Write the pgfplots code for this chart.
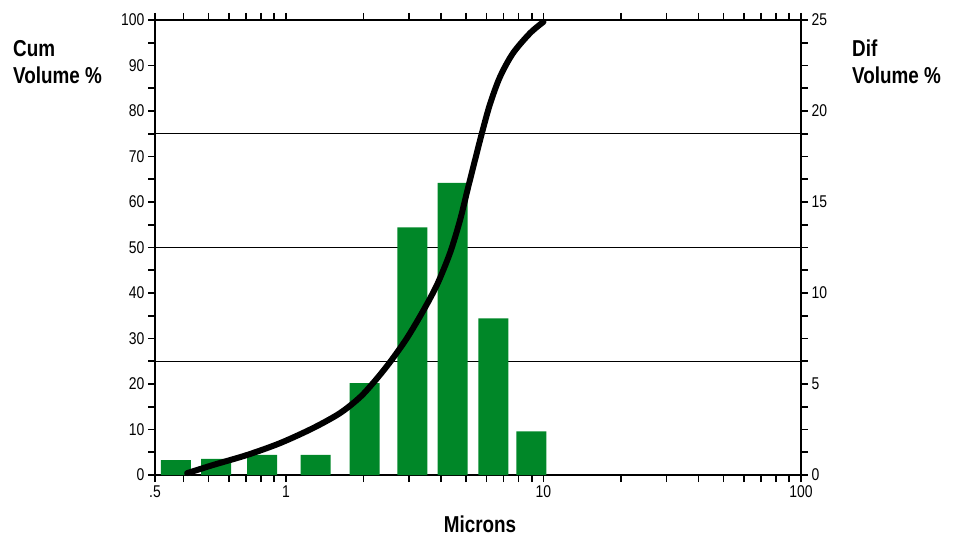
\documentclass[border=0pt]{standalone}
\usepackage{fontspec}
\setmainfont{Liberation Sans}[FakeStretch=0.82]
\usepackage{pgfplots}
\pgfplotsset{compat=1.18}
\definecolor{bargreen}{RGB}{0,135,40}
\begin{document}
\begin{tikzpicture}[x=1pt,y=1pt]
\path[use as bounding box] (0,0) rectangle (955,536);
% axis 1: left scale, reference lines
\begin{axis}[
  at={(155pt,61pt)}, anchor=south west, scale only axis, width=646pt, height=455pt,
  xmode=log, xmin=0.31, xmax=100,
  tick align=outside, major tick length=7pt, minor tick length=7pt,
  tick style={black, line width=1.6pt},
  axis line style={line width=1.8pt},
  tick label style={font=\fontsize{17}{17}\selectfont},
  ymin=0, ymax=100, ytick={0,10,20,30,40,50,60,70,80,90,100},
  yticklabels={0,10,20,30,40,50,60,70,80,90,100},
  minor y tick num=1, ytick pos=left,
  xtick={0.31,1,10,100}, xticklabels={.5,1,10,100},
  minor xtick={0.4,0.5,0.6,0.7,0.8,0.9,2,3,4,5,6,7,8,9,20,30,40,50,60,70,80,90},
  extra y ticks={25,50,75}, extra y tick labels={},
  extra y tick style={grid=major, major tick length=0pt},
  major grid style={black, line width=1.2pt},
]
\addplot[draw=none] coordinates {(1,0)};
\end{axis}
% axis 2: right scale, bars
\begin{axis}[
  at={(155pt,61pt)}, anchor=south west, scale only axis, width=646pt, height=455pt,
  xmode=log, xmin=0.31, xmax=100,
  tick align=outside, major tick length=7pt, minor tick length=7pt,
  tick style={black, line width=1.6pt},
  axis line style={line width=1.8pt},
  tick label style={font=\fontsize{17}{17}\selectfont},
  ymin=0, ymax=25, ytick={0,5,10,15,20,25}, yticklabels={0,5,10,15,20,25},
  minor y tick num=3,
  axis y line*=right, axis x line=none,
]
\addplot[ybar, bar width=30pt, fill=bargreen, draw=none] coordinates {
 (0.374,0.82) (0.535,0.88) (0.807,1.1) (1.302,1.1) (2.018,5.05)
 (3.099,13.6) (4.433,16.05) (6.395,8.6) (8.98,2.4)};
\end{axis}
% axis 3: cumulative curve
\begin{axis}[
  at={(155pt,61pt)}, anchor=south west, scale only axis, width=646pt, height=455pt,
  xmode=log, xmin=0.31, xmax=100,
  ymin=0, ymax=100, hide axis, clip=false]
\addplot[black, line width=6pt, smooth, line cap=round] coordinates {
 (0.413,0.4) (0.521,2.2) (0.706,4.4) (0.948,7.0) (1.273,10.3) (1.621,13.6)
 (1.939,17.1) (2.216,20.7) (2.534,24.8) (2.951,30.1) (3.404,36.0) (3.859,41.8)
 (4.335,48.8) (4.741,56.0) (5.091,63.1) (5.420,69.2) (5.770,75.2) (6.197,81.5)
 (6.779,87.5) (7.613,92.7) (8.864,97.1) (10,99.6)};
\end{axis}
\node[anchor=north west, align=left, inner sep=0pt, font=\fontsize{23}{27}\selectfont\bfseries] at (13,496) {Cum\\Volume \%};
\node[anchor=north west, align=left, inner sep=0pt, font=\fontsize{23}{27}\selectfont\bfseries] at (852,496) {Dif\\Volume \%};
\node[anchor=base, inner sep=0pt, font=\fontsize{23}{27}\selectfont\bfseries] at (480,4) {Microns};
\end{tikzpicture}
\end{document}
